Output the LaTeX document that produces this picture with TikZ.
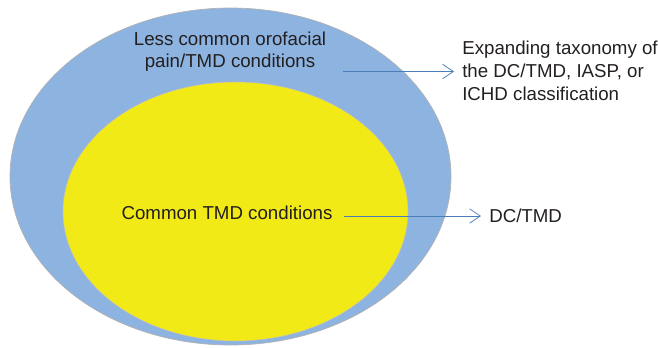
\documentclass[tikz,border=0pt]{standalone}
\usepackage{fontspec}
\setmainfont{Liberation Sans}
\usetikzlibrary{positioning,arrows.meta,calc}

\definecolor{outerblue}{HTML}{8DB3E0}
\definecolor{inneryellow}{HTML}{F2EA17}
\definecolor{textgray}{HTML}{231F20}
\definecolor{arrowblue}{HTML}{4A7EBB}

\begin{document}
\begin{tikzpicture}[
    label/.style={text=textgray,inner sep=0pt,font=\fontsize{13.3}{16}\selectfont,align=center},
    side/.style={text=textgray,inner sep=0.2cm,font=\fontsize{13.3}{16.4}\selectfont,align=left,anchor=west},
    arrow/.style={draw=arrowblue,line width=0.5pt,-{Straight Barb[length=0.27cm,width=0.36cm,line width=0.5pt]}}
]

\useasboundingbox (0,0) rectangle (16.45,8.675);

% Ellipses
\fill[outerblue,draw=black!30,line width=0.5pt] (5.7625,4.2625) ellipse (5.5125cm and 4.2125cm);
\fill[inneryellow,draw=black!25,line width=0.4pt] (5.8875,3.3875) ellipse (4.3125cm and 3.2375cm);

% Labels inside
\node[label] (less) at (5.75,7.385) {Less common orofacial\\pain/TMD conditions};
\node[label] (common) at (5.675,3.35) {Common TMD conditions};

% Labels on the right
\node[side] (expand) at (11.35,6.9125) {Expanding taxonomy of\\the DC/TMD, IASP, or\\ICHD classification};
\node[side] (dctmd) at (12.025,3.275) {DC/TMD};

% Arrows
\coordinate (lessout) at (8.575,6.8875);
\coordinate (commonout) at (8.6,3.275);
\draw[arrow] (lessout) -- (lessout -| expand.west);
\draw[arrow] (commonout) -- (dctmd.west);

\end{tikzpicture}
\end{document}
